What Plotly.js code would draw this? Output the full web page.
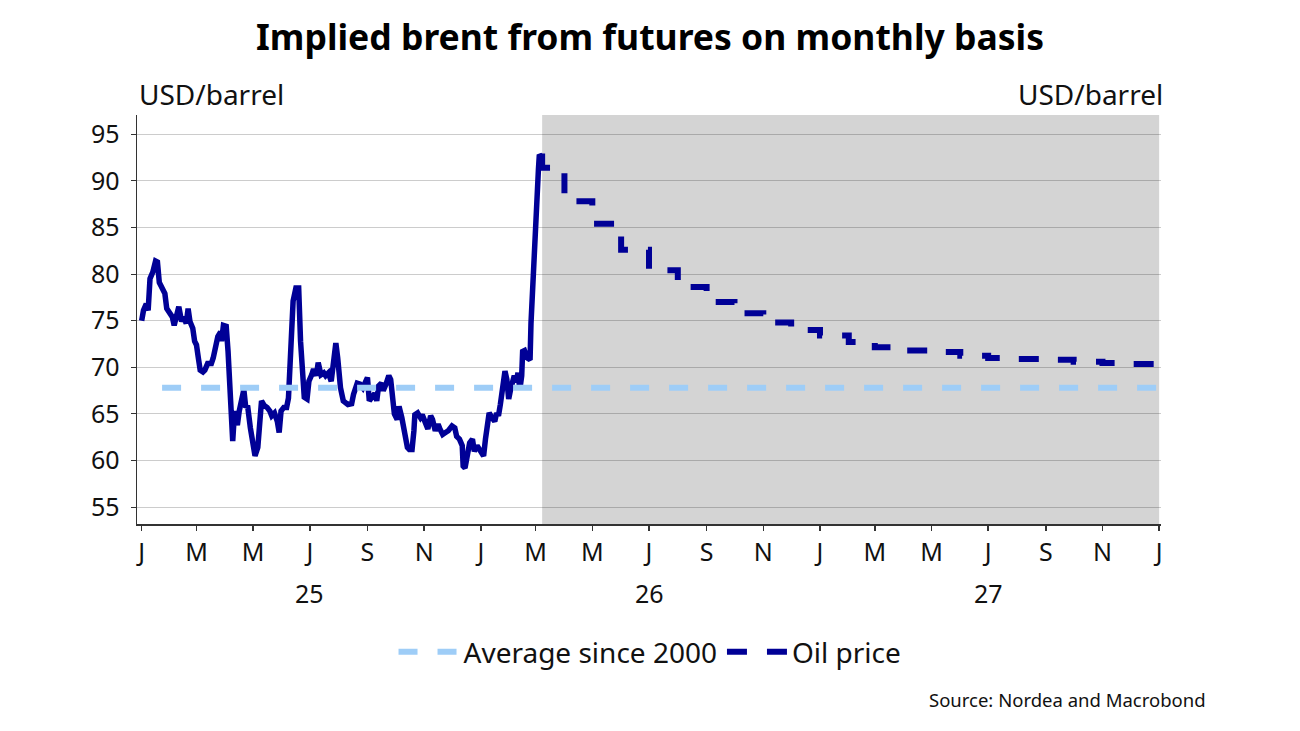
<!DOCTYPE html>
<html><head><meta charset="utf-8">
<script src="https://cdn.plot.ly/plotly-3.0.1.min.js"></script>
<style>html,body{margin:0;padding:0;background:#fff}#chart{width:1300px;height:731px}</style>
</head><body><div id="chart"></div>
<script>
// Historical daily Brent (days since 2025-01-01) and price, USD/barrel
const histDay = [0,2,5,7,9,12,15,17,19,22,25,27,30,33,35,38,40,43,45,48,50,52,55,57,59,61,63,66,68,71,75,77,79,82,85,86,88,91,93,95,96,98,100,103,105,108,110,112,114,117,120,122,125,127,129,132,135,138,140,143,146,148,150,153,156,158,160,162,163,166,169,171,173,175,178,180,183,185,188,190,193,196,198,201,204,207,209,211,214,217,220,222,226,228,232,235,238,241,243,245,248,251,253,255,258,260,263,266,268,270,272,275,277,280,283,286,288,291,293,294,297,300,302,305,308,311,313,316,319,321,324,327,330,334,337,339,342,345,346,348,351,353,356,358,361,364,366,368,370,372,374,377,380,382,384,386,388,390,391,393,395,397,399,401,403,405,407,409,410,412,415,418,419,421,423,424,425,427,428,430];
const histPrice = [75.0,76.1,76.8,76.1,79.5,80.2,81.4,81.3,79.1,78.6,77.9,76.3,75.9,75.4,74.5,75.6,76.5,74.9,75.4,74.7,76.3,74.9,74.2,72.8,72.4,71.0,69.7,69.5,69.7,70.4,70.4,71.0,72.2,73.3,73.8,72.8,74.5,74.4,71.7,68.1,64.2,62.1,65.3,63.8,65.3,66.7,67.6,65.7,65.9,63.5,61.7,60.5,61.4,64.2,66.4,65.9,65.7,65.3,64.8,65.1,64.2,63.0,65.3,65.7,65.7,66.7,70.3,73.5,77.1,78.5,78.5,72.8,68.2,66.8,66.6,68.5,69.2,69.8,69.1,70.5,69.2,69.4,69.1,69.4,68.5,71.0,72.6,71.0,67.8,66.4,66.2,66.0,66.1,67.1,68.3,68.2,67.8,68.7,68.9,66.4,66.9,67.2,66.4,68.0,68.3,67.5,68.2,69.1,68.7,67.1,65.0,64.4,65.8,64.6,63.0,61.4,61.2,61.2,63.2,64.9,65.1,64.6,64.9,64.2,63.4,64.8,64.4,63.2,63.9,63.4,62.8,63.0,63.2,63.7,63.5,62.6,62.3,61.6,59.4,59.2,60.5,61.9,62.3,61.0,61.6,61.2,60.9,60.5,62.3,64.1,65.1,64.6,64.2,65.1,64.8,66.0,67.3,69.1,69.6,68.7,66.6,67.6,68.7,69.1,68.4,69.4,67.6,69.1,71.7,71.8,71.0,70.8,74.7,79.7,81.9,83.7,86.9,91.2,92.8,92.6];

// Implied monthly Brent from futures
const forecastDate = ['2026-03-07','2026-03-08','2026-04-01','2026-05-01','2026-06-01','2026-07-01','2026-08-01','2026-09-01','2026-10-01','2026-11-01','2026-12-01','2027-01-01','2027-02-01','2027-03-01','2027-04-01','2027-05-01','2027-06-01','2027-07-01','2027-08-01','2027-09-01','2027-10-01','2027-11-01','2027-12-01','2028-01-01'];
const forecastPrice = [92.6,91.4,87.8,85.4,82.6,80.4,78.6,77.0,75.8,74.8,74.0,73.4,72.7,72.15,71.8,71.65,71.25,71.0,70.9,70.8,70.6,70.45,70.35,70.35];

// Average since 2000
const avgDate = ['2025-01-23','2028-01-01'];
const avgPrice = [67.8,67.8];

// Shaded forecast period
const forecastStart = '2026-03-08';
const forecastEnd = '2028-01-01';

// Axis labels
const monthTickDates = ['2025-01-01','2025-03-01','2025-05-01','2025-07-01','2025-09-01','2025-11-01','2026-01-01','2026-03-01','2026-05-01','2026-07-01','2026-09-01','2026-11-01','2027-01-01','2027-03-01','2027-05-01','2027-07-01','2027-09-01','2027-11-01','2028-01-01'];
const monthTickText = ['J','M','M','J','S','N','J','M','M','J','S','N','J','M','M','J','S','N','J'];
const yearTickDates = ['2025-01-01','2026-01-01','2027-01-01','2028-01-01'];
const yearLabelDates = ['2025-07-01','2026-07-01','2027-07-01'];
const yearLabelText = ['25','26','27'];
const yTickVals = [55,60,65,70,75,80,85,90,95];

function dayToDate(n){const d=new Date(Date.UTC(2025,0,1));d.setUTCDate(d.getUTCDate()+n);return d.toISOString().slice(0,10);}
const histDate = histDay.map(dayToDate);

const NAVY = '#000096';
const LIGHT = '#9ecdf7';
const FONT = 'Noto Sans, Open Sans, sans-serif';
const xRange = ['2024-12-27','2028-01-03'];
const yRange = [53.2, 97.05];

const traces = [
  {x: histDate, y: histPrice, type:'scatter', mode:'lines', line:{color:NAVY, width:5.5}, showlegend:false, hoverinfo:'skip'},
  {x: forecastDate, y: forecastPrice, type:'scatter', mode:'lines', name:'Oil price', legendrank:2,
   line:{color:NAVY, width:6, shape:'hv', dash:'20px,20px'}},
  {x: avgDate, y: avgPrice, type:'scatter', mode:'lines', name:'Average since 2000', legendrank:1,
   line:{color:LIGHT, width:6, dash:'19px,20px'}}
];

const annotations = yearLabelDates.map((d,i)=>({x:d, xref:'x', y:-0.168, yref:'paper', text:yearLabelText[i], showarrow:false, font:{family:FONT, size:25, color:'#111'}, xanchor:'center', yanchor:'middle'}));
annotations.push({x:0, xref:'paper', y:1.052, yref:'paper', text:'USD/barrel', showarrow:false, xanchor:'left', yanchor:'middle', font:{family:FONT, size:28, color:'#111'}});
annotations.push({x:1.004, xref:'paper', y:1.052, yref:'paper', text:'USD/barrel', showarrow:false, xanchor:'right', yanchor:'middle', font:{family:FONT, size:28, color:'#111'}});
annotations.push({x:1.046, xref:'paper', y:-0.430, yref:'paper', text:'Source: Nordea and Macrobond', showarrow:false, xanchor:'right', yanchor:'middle', font:{family:FONT, size:18.5, color:'#111'}});

const layout = {
  width:1300, height:731,
  margin:{l:137, r:139, t:115, b:207},
  paper_bgcolor:'#fff', plot_bgcolor:'rgba(0,0,0,0)',
  font:{family:FONT, color:'#111'},
  title:{text:'<b>Implied brent from futures on monthly basis</b>', x:0.5, xanchor:'center', y:0.949, yanchor:'middle', font:{family:FONT, size:35.5, color:'#000'}},
  showlegend:true,
  legend:{orientation:'h', x:0.501, xanchor:'center', y:-0.313, yanchor:'middle', font:{family:FONT, size:28, color:'#111'}, itemwidth:60, tracegroupgap:0},
  xaxis:{type:'date', range:xRange, tickmode:'array', tickvals:monthTickDates, ticktext:monthTickText,
    ticks:'outside', ticklen:5, tickwidth:1.5, tickcolor:'#333', showgrid:false, zeroline:false,
    showline:true, linecolor:'#333', linewidth:1.5, tickfont:{family:FONT, size:25, color:'#111'}, fixedrange:true},
  xaxis2:{type:'date', range:xRange, overlaying:'x', anchor:'y', side:'bottom', tickmode:'array', tickvals:yearTickDates,
    ticks:'outside', ticklen:9, tickwidth:1.5, tickcolor:'#333', showticklabels:false, showgrid:false, zeroline:false, showline:false},
  yaxis:{range:yRange, tickmode:'array', tickvals:yTickVals, ticks:'outside', ticklen:5, tickwidth:1, tickcolor:'#333',
    showgrid:true, gridcolor:'rgba(0,0,0,0.2)', gridwidth:1, zeroline:false, showline:true, linecolor:'#333', linewidth:1.5,
    tickfont:{family:FONT, size:25, color:'#111'}, ticklabelstandoff:6},
  yaxis2:{range:yRange, overlaying:'y', side:'right', anchor:'x', tickmode:'array', tickvals:yTickVals, ticks:'outside', ticklen:5,
    tickwidth:1, tickcolor:'#333', showgrid:false, zeroline:false, showline:true, linecolor:'#333', linewidth:1.5,
    tickfont:{family:FONT, size:25, color:'#111'}, ticklabelstandoff:12},
  shapes:[{type:'rect', xref:'x', yref:'paper', x0:forecastStart, x1:forecastEnd, y0:0, y1:1, fillcolor:'#d4d4d4', line:{width:0}, layer:'below'}],
  annotations: annotations
};

Plotly.newPlot('chart', traces, layout, {displayModeBar:false, staticPlot:true});
</script>
</body></html>
